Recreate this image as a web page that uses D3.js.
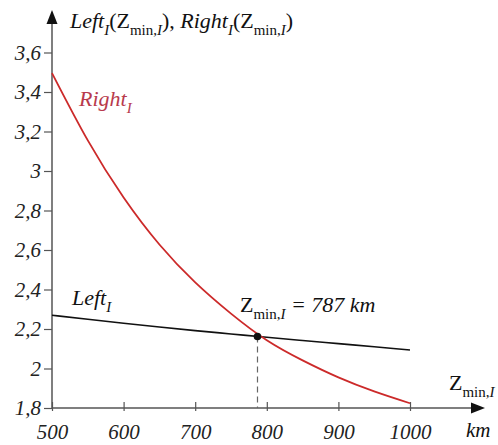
<!DOCTYPE html>
<html>
<head>
<meta charset="utf-8">
<script src="https://cdn.jsdelivr.net/npm/d3@7"></script>
<style>
  body { margin: 0; background: #fff; }
  svg text, svg tspan { font-family: "Liberation Serif", "Times New Roman", serif !important; }
</style>
</head>
<body>
<div id="chart"></div>
<script>
"use strict"

// data
var zValues = [500, 550, 600, 650, 700, 750, 800, 850, 900, 950, 1000];
var rightValues = [3.496, 3.155, 2.866, 2.628, 2.436, 2.278, 2.143, 2.041, 1.955, 1.884, 1.824];
var leftValues = [2.270, 2.249, 2.229, 2.210, 2.192, 2.175, 2.158, 2.142, 2.126, 2.110, 2.094];
var xTicks = [500, 600, 700, 800, 900, 1000];
var yTicks = [1.8, 2, 2.2, 2.4, 2.6, 2.8, 3, 3.2, 3.4, 3.6];
var zMin = 787;
var zMinValue = 2.162;

var serif = "Liberation Serif";
var width = 498, height = 445;
var svg = d3.select("#chart")
    .append("svg")
    .attr("width", width)
    .attr("height", height);

var x = d3.scaleLinear().domain([500, 1000]).range([52, 410]);
var y = d3.scaleLinear().domain([1.8, 3.6]).range([408, 52.5]);

var fmt = function(d) { return String(+d.toFixed(1)).replace(".", ","); };
var axisColor = "#555";

// text with subscripts: parts = [text, italic, sub]
function richText(px, py, size, color, parts) {
    var t = svg.append("text")
        .attr("x", px).attr("y", py)
        .attr("font-family", serif)
        .attr("font-size", size)
        .style("fill", color)
        .style("font-family", serif, "important")
        .style("font-size", size + "px");
    var sub = false;
    parts.forEach(function(p) {
        var s = t.append("tspan").text(p[0])
            .attr("font-family", serif)
            .style("font-family", serif, "important")
            .style("font-size", (p[2] ? size * 0.68 : size) + "px")
            .style("font-style", p[1] ? "italic" : "normal");
        if (p[2] && !sub) { s.attr("dy", size * 0.3); sub = true; }
        else if (!p[2] && sub) { s.attr("dy", -size * 0.3); sub = false; }
    });
    return t;
}

richText(70, 28, 22, "#111", [
    ["Left", true, false], ["I", true, true], ["(Z", false, false], ["min,", false, true], ["I", true, true],
    ["), ", false, false], ["Right", true, false], ["I", true, true], ["(Z", false, false], ["min,", false, true],
    ["I", true, true], [")", false, false]
]);
richText(79, 106, 22, "#b83a4c", [["Right", true, false], ["I", true, true]]);
richText(72, 305, 22, "#111", [["Left", true, false], ["I", true, true]]);
richText(240, 312, 22, "#111", [["Z", false, false], ["min,", false, true], ["I", true, true], [" = 787 km", true, false]]);
richText(449, 390, 22, "#111", [["Z", false, false], ["min,", false, true], ["I", true, true]]);
richText(466, 437, 21, "#111", [["km", true, false]]);

// y axis ticks
var yAxis = svg.append("g")
    .attr("transform", "translate(52,0)")
    .call(d3.axisLeft(y).tickValues(yTicks).tickFormat(fmt).tickSize(8).tickPadding(3));
yAxis.attr("font-family", serif).attr("font-size", 21);
yAxis.select(".domain").remove();
yAxis.selectAll("line").attr("stroke", axisColor).attr("stroke-width", 1.2);
yAxis.selectAll("text")
    .attr("font-family", serif)
    .style("font-family", serif, "important").style("font-size", "21px")
    .style("font-style", "italic").style("fill", "#222");

// x axis ticks
var xAxis = svg.append("g")
    .attr("transform", "translate(0,408)")
    .call(d3.axisBottom(x).tickValues(xTicks).tickFormat(d3.format("d")).tickSize(0).tickPadding(16));
xAxis.attr("font-family", serif).attr("font-size", 21);
xAxis.select(".domain").remove();
xAxis.selectAll(".tick line")
    .attr("y1", -6).attr("y2", 3)
    .attr("stroke", axisColor).attr("stroke-width", 1.2);
xAxis.selectAll("text")
    .attr("font-family", serif)
    .style("font-family", serif, "important").style("font-size", "21px")
    .style("font-style", "italic").style("fill", "#222");

// axis lines with arrows
svg.append("line")
    .attr("x1", 52).attr("y1", 408).attr("x2", 52).attr("y2", 22)
    .attr("stroke", axisColor).attr("stroke-width", 1.5);
svg.append("path")
    .attr("d", "M52,10 L46.5,24 L57.5,24 Z")
    .attr("fill", "#111");
svg.append("line")
    .attr("x1", 52).attr("y1", 408).attr("x2", 472).attr("y2", 408)
    .attr("stroke", axisColor).attr("stroke-width", 1.5);
svg.append("path")
    .attr("d", "M485,408 L471,402.5 L471,413.5 Z")
    .attr("fill", "#111");

// curves
var line = d3.line()
    .x(function(d) { return x(d[0]); })
    .y(function(d) { return y(d[1]); })
    .curve(d3.curveNatural);

svg.append("path")
    .datum(zValues.map(function(z, i) { return [z, leftValues[i]]; }))
    .attr("d", line)
    .attr("fill", "none")
    .attr("stroke", "#111")
    .attr("stroke-width", 1.6);

svg.append("path")
    .datum(zValues.map(function(z, i) { return [z, rightValues[i]]; }))
    .attr("d", line)
    .attr("fill", "none")
    .attr("stroke", "#cc2a2a")
    .attr("stroke-width", 1.8);

// intersection marker
svg.append("line")
    .attr("x1", x(zMin)).attr("x2", x(zMin))
    .attr("y1", y(zMinValue)).attr("y2", 408)
    .attr("stroke", "#666").attr("stroke-width", 1.2)
    .attr("stroke-dasharray", "6,4");
svg.append("circle")
    .attr("cx", x(zMin)).attr("cy", y(zMinValue)).attr("r", 3.8)
    .attr("fill", "#111");
</script>
</body>
</html>
